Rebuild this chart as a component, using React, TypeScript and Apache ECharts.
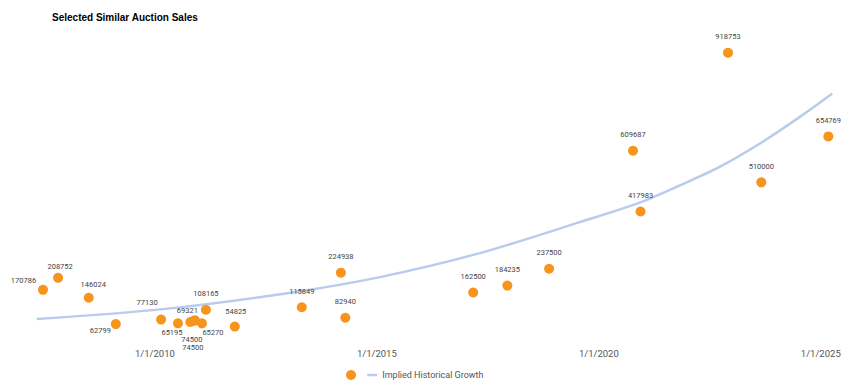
import React, { useEffect, useRef } from 'react';
import * as echarts from 'echarts';

const TITLE = 'Selected Similar Auction Sales';
const SALES_NAME = ' ';
const TREND_NAME = 'Implied Historical Growth';

// sale dates as decimal years, and sale prices
const saleYears = [
  2007.48, 2007.82, 2008.51, 2009.12, 2010.14, 2010.52, 2010.8, 2010.9, 2010.9, 2011.06, 2011.15, 2011.8,
  2013.31, 2014.19, 2014.29, 2017.17, 2017.94, 2018.88, 2020.77, 2020.94, 2022.91, 2023.66, 2025.17,
];
const salePrices = [
  170786, 208752, 146024, 62799, 77130, 65195, 69321, 74500, 74500, 65270, 108165, 54825,
  115849, 224938, 82940, 162500, 184235, 237500, 609687, 417983, 918753, 510000, 654769,
];

// implied historical growth curve
const trendYears = [
  2007.34, 2010.18, 2013.02, 2015.07, 2017.32, 2019.57, 2020.92, 2021.82, 2022.72, 2023.63, 2024.53, 2025.26,
];
const trendValues = [
  78500, 110000, 161000, 210900, 286600, 384300, 446000, 500000, 558700, 632500, 716400, 790100,
];

const tickYears = [2010, 2015, 2020, 2025];

// label placement tweaks (style only)
const defaultLabelOffset: [number, number] = [0, -16];
const labelOffsets: Record<number, [number, number]> = {
  0: [-19.5, -9],
  1: [2, -11.5],
  2: [4.5, -13],
  3: [-15.5, 6],
  4: [-14, -17],
  5: [-6, 9],
  6: [-3, -12],
  7: [-3, 19],
  8: [-2, 27.5],
  9: [11, 9],
  11: [1, -15],
};

export default function App() {
  const ref = useRef<HTMLDivElement>(null);
  useEffect(() => {
    document.body.style.margin = '0';
    if (!ref.current) return;
    const chart = echarts.init(ref.current, undefined, { renderer: 'svg' });
    const font = 'Roboto, "Liberation Sans", Arial, sans-serif';
    chart.setOption({
      animation: false,
      backgroundColor: '#ffffff',
      title: {
        text: TITLE,
        left: 52,
        top: 11,
        padding: 0,
        textStyle: {
          fontFamily: '"Liberation Sans", Arial, sans-serif',
          fontSize: 10,
          fontWeight: 'bold',
          color: '#000',
          lineHeight: 12,
        },
      },
      legend: {
        left: 346,
        top: 370,
        padding: 0,
        itemGap: 4,
        itemWidth: 10,
        itemHeight: 10,
        textStyle: { fontFamily: font, fontSize: 9, color: '#555' },
        data: [
          { name: SALES_NAME, icon: 'circle' },
          { name: TREND_NAME, icon: 'path://M0,0 L10,0 L10,2.5 L0,2.5 Z', itemStyle: { color: '#b9cbee' } },
        ],
      },
      grid: { left: 35, right: 15, top: 27, bottom: 42 },
      xAxis: {
        type: 'value',
        min: 2007.3,
        max: 2025.32,
        axisLine: { show: false },
        axisTick: { show: false },
        splitLine: { show: false },
        axisLabel: {
          customValues: tickYears,
          formatter: (v: number) => '1/1/' + Math.round(v),
          fontFamily: font,
          fontSize: 9.5,
          color: '#555',
          margin: 4,
        },
      },
      yAxis: {
        type: 'value',
        min: 0,
        max: 1000000,
        show: false,
        splitLine: { show: false },
      },
      series: [
        {
          name: TREND_NAME,
          type: 'line',
          smooth: 0.3,
          symbol: 'none',
          z: 1,
          color: '#b9cbee',
          lineStyle: { color: '#b9cbee', width: 2.5 },
          data: trendYears.map((y, i) => [y, trendValues[i]]),
        },
        {
          name: SALES_NAME,
          type: 'scatter',
          symbolSize: 10,
          z: 3,
          itemStyle: { color: '#f6941c', opacity: 1 },
          label: {
            show: true,
            position: 'inside',
            align: 'center',
            verticalAlign: 'middle',
            fontFamily: font,
            fontSize: 7.5,
            color: '#444',
            formatter: (p: any) => String(p.value[1]),
          },
          emphasis: { disabled: true },
          data: saleYears.map((y, i) => ({
            value: [y, salePrices[i]],
            label: { offset: labelOffsets[i] ?? defaultLabelOffset },
          })),
        },
      ],
    });
    return () => chart.dispose();
  }, []);
  return <div ref={ref} style={{ width: 850, height: 386 }} />;
}
